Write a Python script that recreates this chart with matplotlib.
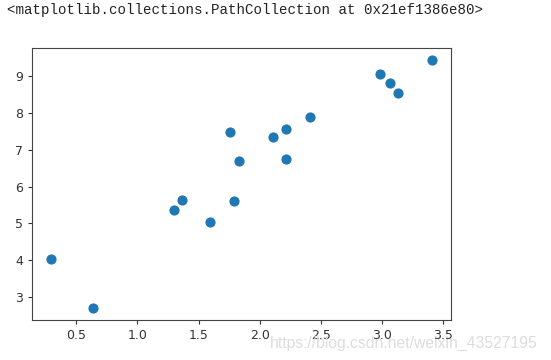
import matplotlib.pyplot as plt

# points
x = [0.297, 0.640, 1.296, 1.367, 1.595, 1.759, 1.790, 1.831,
     2.108, 2.212, 2.212, 2.407, 2.986, 3.068, 3.129, 3.405]
y = [4.03, 2.70, 5.37, 5.63, 5.03, 7.48, 5.60, 6.70,
     7.35, 7.56, 6.76, 7.90, 9.07, 8.82, 8.55, 9.44]

repr_text = '<matplotlib.collections.PathCollection at 0x21ef1386e80>'
watermark = 'https://blog.csdn.net/weixin_43527195'

fig = plt.figure(figsize=(5.51, 3.6), dpi=100)
ax = fig.add_axes([0.0586, 0.111, 0.7594, 0.756])
ax.scatter(x, y, s=40, color='#1f77b4')

ax.tick_params(labelsize=9, length=3.2, width=0.8, colors='#333333')
ax.set_yticks([3, 4, 5, 6, 7, 8, 9])
for s in ax.spines.values():
    s.set_color('#444444')

# notebook output line above the figure
fig.text(0.013, 0.972, repr_text, family='Liberation Mono', fontsize=10.2,
         color='#222222', va='center', ha='left')
# faint blog watermark
fig.text(0.49, 0.047, watermark, fontsize=11.3, color='#dddddd',
         va='center', ha='left', family='Liberation Sans')

fig.savefig('out.png', dpi=100)
